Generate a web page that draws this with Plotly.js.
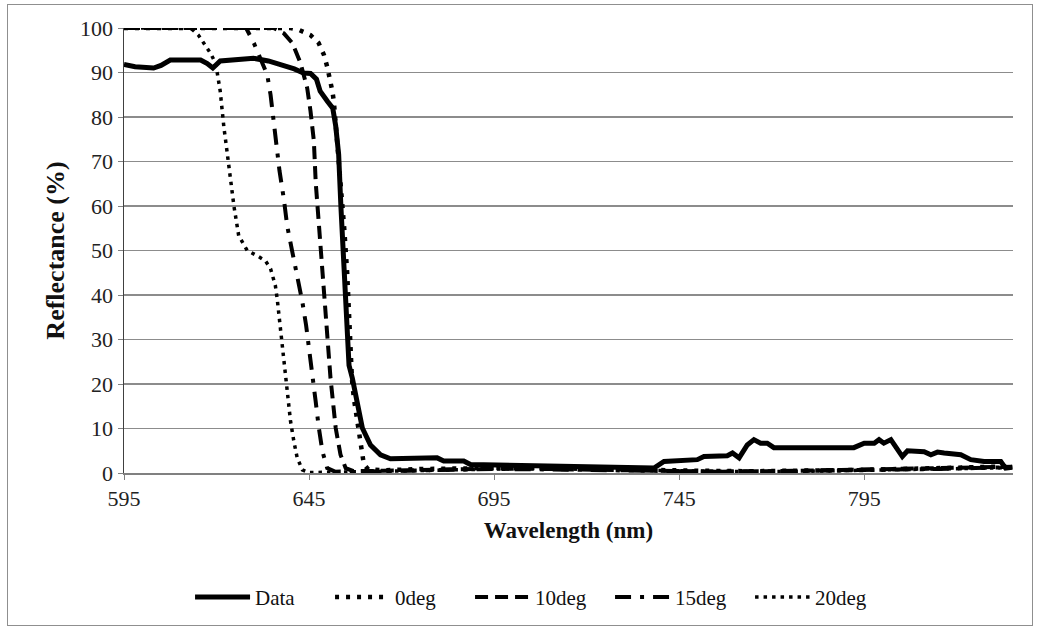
<!DOCTYPE html>
<html>
<head>
<meta charset="utf-8">
<script src="https://cdn.plot.ly/plotly-3.0.1.min.js"></script>
<style>
html,body{margin:0;padding:0;background:#fff;}
#wrap{position:relative;width:1040px;height:630px;}
#chart{width:1040px;height:630px;}
#frame{position:absolute;left:7px;top:4px;width:1024px;height:620px;border:1.5px solid #8f8f8f;pointer-events:none;}
</style>
</head>
<body>
<div id="wrap"><div id="chart"></div><div id="frame"></div></div>
<script>
// Measured data
var dataX = [595,598,603,605,607.5,612,615.7,617.5,619,621,625,630,634,638,641,643.5,645.4,647,648,650,651.4,652.2,653,653.6,654.2,654.8,655.3,655.8,656.7,658,659.4,661.6,664.3,667,672,679.6,681.4,686.8,688.6,695,705,715,725,735,738.2,740.9,749.9,751.7,758,759.4,761.2,763.4,765.2,767,768.8,770.6,792.2,795,797.7,799,800.3,802.2,803.1,805.3,806.7,811.2,813,814.8,816.6,821.1,823.8,827.4,831.9,833.2,835];
var dataY = [91.8,91.3,91.0,91.6,92.8,92.9,92.8,92.0,91.0,92.6,92.9,93.2,92.6,91.7,90.8,89.9,89.8,88.5,85.8,83.5,82,78,71.6,60,50,40,30.2,24.2,21.3,15.3,10.1,6.3,4.1,3.2,3.3,3.4,2.7,2.7,1.9,1.8,1.7,1.5,1.4,1.2,1.1,2.6,3.0,3.7,3.9,4.5,3.4,6.3,7.5,6.7,6.7,5.7,5.7,6.7,6.7,7.5,6.7,7.5,6.3,3.7,5.0,4.8,4.1,4.7,4.5,4.1,3.0,2.6,2.6,1.1,1.3];

var deg0X = [595,640,642.2,645.4,647.6,649,649.9,650.8,651.3,651.7,652.5,653.5,654.5,655.3,655.8,656.2,656.6,657.1,658.5,659.4,659.8,661,665,675,690,705,720,735,750,765,780,795,810,825,835];
var deg0Y = [100,100,99.6,98.4,96.6,94,91.3,88.3,85.8,83.5,76,65,55,45,35,27,21,16.8,9.4,4.9,2,0.8,0.6,0.9,1.1,1.2,1.0,0.7,0.5,0.4,0.5,0.7,1.0,1.3,1.5];

var deg10X = [595,635.4,638.2,640.5,642.7,644.5,645.4,646.3,646.8,648.1,649,649.9,650.8,652.2,653.5,654.9,657,665,680,695,710,725,740,755,770,785,800,815,825,835];
var deg10Y = [100,100,98.8,96.6,92.1,86.5,81.3,74.6,65.3,51.1,39.9,30.2,21.3,10.1,4.1,1.1,0.4,0.5,0.8,1.0,0.9,0.7,0.5,0.3,0.4,0.6,0.8,1.1,1.2,1.4];

var deg15X = [595,628,630.1,632,633.7,634.6,635.5,637,638.2,639.1,640.5,641.8,643.2,644.2,645.2,645.9,646.8,647.6,648.6,649.9,652,665,680,695,710,725,740,755,770,785,800,815,825,835];
var deg15Y = [100,100,96.6,93,89.5,85,78.3,68,61.5,55.5,49.6,44.4,38.4,33.2,27.2,21.6,16,10.4,4.9,1.1,0.3,0.4,0.7,0.9,0.8,0.6,0.4,0.3,0.4,0.5,0.7,0.9,1.1,1.3];

var deg20X = [595,613,615.1,617,618.4,619.3,620.2,621,621.5,622,622.6,623.8,624.7,626,628.3,631,633.2,634.6,635.9,636.4,637.3,638.2,639.1,640,640.9,641.8,643.2,645,660,675,690,705,720,735,750,765,780,795,810,825,835];
var deg20Y = [100,100,98.4,96.2,94.3,92.8,89.9,85.8,81.3,77.6,73.8,66,60,53.3,50,48.8,47.7,45.9,42.1,39.1,32.4,24.2,18.3,11.6,7.1,3.4,0.7,0.1,0.3,0.6,0.8,1.0,0.9,0.6,0.4,0.3,0.4,0.6,0.9,1.1,1.2];

var seriesNames = ["Data","0deg","10deg","15deg","20deg"];
var xTicks = [595,645,695,745,795];
var yTicks = [0,10,20,30,40,50,60,70,80,90,100];

(function(){
  var fam = "Liberation Serif";

  var traces = [
    {x: dataX, y: dataY, name: seriesNames[0], mode: 'lines', line: {color: '#000', width: 5}},
    {x: deg0X, y: deg0Y, name: seriesNames[1], mode: 'lines', line: {color: '#000', width: 4.5, dash: '4px,7px'}},
    {x: deg10X, y: deg10Y, name: seriesNames[2], mode: 'lines', line: {color: '#000', width: 4, dash: '13px,7px'}},
    {x: deg15X, y: deg15Y, name: seriesNames[3], mode: 'lines', line: {color: '#000', width: 4, dash: '16px,9px,4px,9px'}},
    {x: deg20X, y: deg20Y, name: seriesNames[4], mode: 'lines', line: {color: '#000', width: 3.5, dash: '3.5px,5px'}}
  ];

  var mL = 124, mR = 27, mT = 28, mB = 155;
  var plotH = 630 - mT - mB;
  function toPy(v){ return (mT + plotH - v) / plotH; }

  var layout = {
    width: 1040, height: 630,
    margin: {l: mL, r: mR, t: mT, b: mB},
    font: {family: fam, size: 21},
    showlegend: true,
    legend: {
      orientation: 'h', x: 0.468, xanchor: 'center', y: toPy(600), yanchor: 'middle',
      font: {family: fam, size: 21, color: '#111'}, itemwidth: 55, entrywidth: 70
    },
    xaxis: {
      range: [595, 835.2], tick0: xTicks[0], dtick: xTicks[1] - xTicks[0],
      showgrid: false, zeroline: false,
      showline: true, linecolor: '#808080', linewidth: 1.5,
      ticks: 'outside', ticklen: 5, tickcolor: '#808080',
      tickfont: {family: fam, size: 22, color: '#222'},
      title: {text: 'Wavelength (nm)', font: {family: fam, size: 23, color: '#111', weight: 'bold'}, standoff: 12}
    },
    yaxis: {
      range: [0, 100], tick0: yTicks[0], dtick: yTicks[1] - yTicks[0],
      showgrid: true, gridcolor: '#8c8c8c', gridwidth: 1.2,
      zeroline: false, showline: true, linecolor: '#404040', linewidth: 1.5,
      ticks: 'outside', ticklen: 5, tickcolor: '#808080',
      tickfont: {family: fam, size: 22, color: '#222'},
      title: {text: 'Reflectance (%)', font: {family: fam, size: 26, color: '#111', weight: 'bold'}, standoff: 8}
    }
  };

  Plotly.newPlot('chart', traces, layout, {staticPlot: true});
})();
</script>
</body>
</html>
